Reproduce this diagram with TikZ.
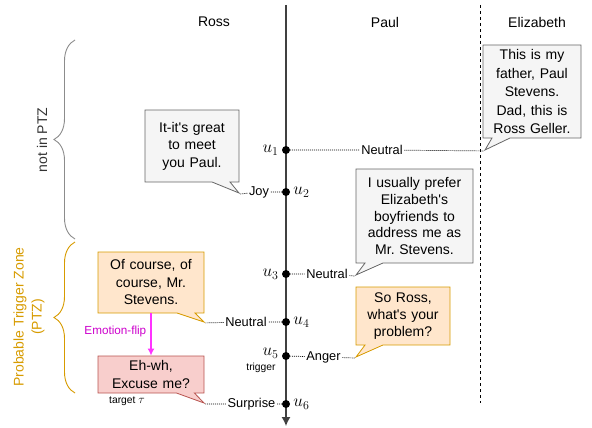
\documentclass[tikz,border=0pt]{standalone}
\usepackage{fontspec}
\setmainfont{Liberation Sans}
\usepackage{tikz}
\usetikzlibrary{shapes.callouts,arrows.meta,decorations.pathreplacing,positioning}
\definecolor{greyfill}{HTML}{F5F5F5}
\definecolor{greyline}{HTML}{666666}
\definecolor{orangefill}{HTML}{FFE6CC}
\definecolor{orangeline}{HTML}{D79B00}
\definecolor{redfill}{HTML}{F8CECC}
\definecolor{redline}{HTML}{B85450}
\definecolor{flipline}{HTML}{FF33FF}
\definecolor{fliptext}{HTML}{CC00CC}
\tikzstyle{talk} = [rectangle callout, draw=greyline, fill=greyfill, align=center,
    inner xsep=2pt, inner ysep=2pt, callout pointer width=18pt, line width=0.8pt,
    font=\fontsize{14}{17.5}\selectfont]
\tikzstyle{talkorange} = [talk, draw=orangeline, fill=orangefill]
\tikzstyle{talkred} = [talk, draw=redline, fill=redfill]
\tikzstyle{utt} = [circle, fill=black, inner sep=0pt, minimum size=8pt]
\tikzstyle{ulab} = [inner sep=1pt, font=\fontsize{17.28}{19}\selectfont]
\tikzstyle{emo} = [inner sep=1.5pt, font=\fontsize{12.8}{14}\selectfont]
\tikzstyle{tag} = [inner sep=1pt, font=\fontsize{10.3}{12}\selectfont]
\tikzstyle{head} = [font=\fontsize{14}{16}\selectfont]
\tikzstyle{link} = [draw, dash pattern=on 1pt off 1pt, line width=0.7pt]
\tikzstyle{timeline} = [draw, color=black!75, line width=1.3pt, -{Latex[length=9pt,width=9pt]}]

\begin{document}
\frenchspacing
\begin{tikzpicture}[x=1pt, y=-1pt]
			\useasboundingbox (0,0) rectangle (592,428);
			% speakers
			\node [head] (ross) at (214,22) {Ross};
			\node [head] (paul) at (385,22) {Paul};
			\node [head] (elizabeth) at (537,22) {Elizabeth};

			% time axis and utterances
			\coordinate (top) at (286,5);
			\coordinate (bottom) at (286,426);
			\coordinate (sepTop) at (480,5);
			\coordinate (sepBottom) at (480,403);
			\path [timeline] (top) -- (bottom);
			\path [draw, dashed, dash pattern=on 3pt off 3pt, line width=0.8pt] (sepTop) -- (sepBottom);

			\node [utt] (u1) at (286,150) {};
			\node [utt] (u2) at (286,192) {};
			\node [utt] (u3) at (286,274) {};
			\node [utt] (u4) at (286,322) {};
			\node [utt] (u5) at (286,356) {};
			\node [utt] (u6) at (286,404) {};
			\node [ulab, left=2pt of u1] (lab1) {$u_1$};
			\node [ulab, right=2pt of u2] (lab2) {$u_2$};
			\node [ulab, left=2pt of u3] (lab3) {$u_3$};
			\node [ulab, right=2pt of u4] (lab4) {$u_4$};
			\node [ulab, left=2pt of u5, yshift=2.5pt] (lab5) {$u_5$};
			\node [ulab, right=2pt of u6] (lab6) {$u_6$};
			\node [tag] (trigger) at (261,368) {trigger};
			\node [tag] (target) at (127,401) {target {\fontsize{12}{14}\selectfont$\tau$}};

			% what is said
			\node [talk, text width=90pt, minimum height=72pt, callout absolute pointer={(239,193)}] (greet) at (192,146) {It-it\textquotesingle s great\\to meet\\you Paul.};
			\node [talk, text width=94pt, minimum height=93pt, font=\fontsize{14}{18.5}\selectfont, callout absolute pointer={(485,150)}] (intro) at (532,91.5) {This is my\\father, Paul\\Stevens.\\Dad, this is\\Ross Geller.};
			\node [talk, text width=113pt, minimum height=94pt, font=\fontsize{14}{16.8}\selectfont, callout absolute pointer={(356,275)}] (prefer) at (414.5,216) {I usually prefer\\Elizabeth\textquotesingle s\\boyfriends to\\address me as\\Mr. Stevens.};
			\node [talkorange, text width=90pt, minimum height=58pt, font=\fontsize{14}{16.8}\selectfont, callout absolute pointer={(356,357)}] (problem) at (403,316) {So Ross,\\what\textquotesingle s your\\problem?};
			\node [talkorange, text width=102pt, minimum height=61pt, callout absolute pointer={(204,322)}] (course) at (151,282.5) {Of course, of\\course, Mr.\\Stevens.};
			\node [talkred, text width=102pt, minimum height=37pt, font=\fontsize{14}{18.3}\selectfont, callout absolute pointer={(204,403)}] (excuse) at (151,374.5) {Eh-wh,\\Excuse me?};

			% emotions
			\node [emo] (e1) at (382,150) {Neutral};
			\node [emo] (e2) at (259,192) {Joy};
			\node [emo] (e3) at (327,274) {Neutral};
			\node [emo] (e4) at (246,322) {Neutral};
			\node [emo] (e5) at (323.5,357) {Anger};
			\node [emo] (e6) at (251.5,404) {Surprise};

			% Draw edges
			\path [link] (u1) -- (e1) -- (intro.pointer);
			\path [link] (u2) -- (e2) -- (greet.pointer);
			\path [link] (u3) -- (e3) -- (prefer.pointer);
			\path [link] (u4) -- (e4) -- (course.pointer);
			\path [link] (u5) -- (e5) -- (problem.pointer);
			\path [link] (u6) -- (e6) -- (excuse.pointer);
			\path [draw, flipline, line width=1.5pt, -{Latex[length=7pt,width=7pt]}] (course.south) -- node [left, pos=0.42, xshift=-3pt, inner sep=1pt, text=fliptext, font=\fontsize{11.7}{13}\selectfont] {Emotion-flip} (excuse.north);

			% zones
			\draw [black!45, line width=0.9pt, decorate, decoration={brace, amplitude=21pt}] (75,239) -- (75,40);
			\draw [orangeline, line width=0.9pt, decorate, decoration={brace, amplitude=21pt}] (75,393) -- (75,242);
			\node [rotate=90, text=black!80, font=\fontsize{14}{17}\selectfont] (notPTZ) at (42,140) {not in PTZ};
			\node [rotate=90, align=center, text=orangeline, font=\fontsize{14}{18}\selectfont] (PTZ) at (29,317) {Probable Trigger Zone\\(PTZ)};
%
	\end{tikzpicture}
\end{document}
